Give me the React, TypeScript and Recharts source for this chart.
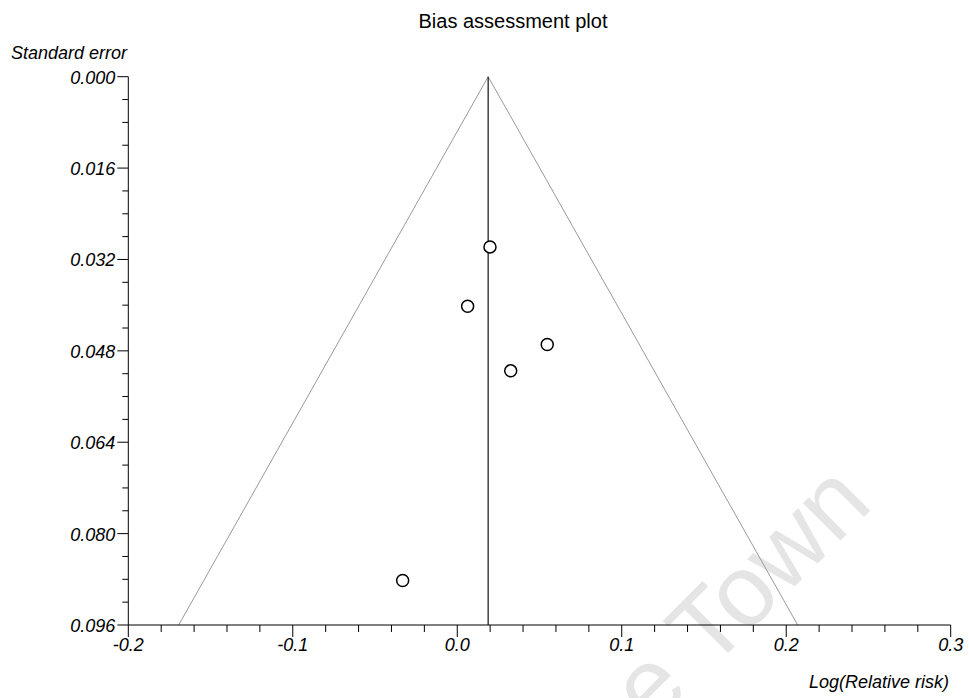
import React from 'react';
import {
  ScatterChart,
  Scatter,
  XAxis,
  YAxis,
  ReferenceLine,
} from 'recharts';

// Study estimates: log relative risk and its standard error
const logRelativeRisk = [0.0199, 0.0063, 0.0547, 0.0325, -0.0332];
const standardError = [0.0298, 0.0402, 0.0469, 0.0515, 0.0882];

// Pooled (fixed effect) estimate and the deepest standard error shown
const pooledEstimate = 0.0188;
const maxStandardError = 0.096;
const zCritical = 1.96;

// Axis ticks
const xTickValues = [-0.2, -0.18, -0.16, -0.14, -0.12, -0.1, -0.08, -0.06, -0.04, -0.02, 0, 0.02, 0.04, 0.06, 0.08, 0.1, 0.12, 0.14, 0.16, 0.18, 0.2, 0.22, 0.24, 0.26, 0.28, 0.3];
const xTickLabels = ['-0.2', '-0.1', '0.0', '0.1', '0.2', '0.3'];
const yTickValues = [0, 0.004, 0.008, 0.012, 0.016, 0.02, 0.024, 0.028, 0.032, 0.036, 0.04, 0.044, 0.048, 0.052, 0.056, 0.06, 0.064, 0.068, 0.072, 0.076, 0.08, 0.084, 0.088, 0.092, 0.096];
const yTickLabels = ['0.000', '0.016', '0.032', '0.048', '0.064', '0.080', '0.096'];

const studies = logRelativeRisk.map((v, i) => ({ x: v, y: standardError[i] }));

const FONT = '"Liberation Sans", Arial, Helvetica, sans-serif';
const W = 969;
const H = 698;

const XTick = (props: any) => {
  const { x, y, index } = props;
  const major = index % 5 === 0;
  return (
    <g>
      <line x1={x} y1={y} x2={x} y2={y + (major ? 12 : 7)} stroke="#000" strokeWidth={1} />
      {major && (
        <text
          x={x}
          y={y + 26}
          textAnchor="middle"
          fontFamily={FONT}
          fontStyle="italic"
          fontSize={18}
          fill="#000"
        >
          {xTickLabels[index / 5]}
        </text>
      )}
    </g>
  );
};

const YTick = (props: any) => {
  const { x, y, index } = props;
  const major = index % 4 === 0;
  return (
    <g>
      <line x1={x - (major ? 11 : 6)} y1={y} x2={x} y2={y} stroke="#000" strokeWidth={1} />
      {major && (
        <text
          x={x - 13}
          y={y + 7}
          textAnchor="end"
          fontFamily={FONT}
          fontStyle="italic"
          fontSize={18}
          fill="#000"
        >
          {yTickLabels[index / 4]}
        </text>
      )}
    </g>
  );
};

const StudyMarker = (props: any) => {
  const { cx, cy } = props;
  if (cx == null || cy == null) return null;
  return <circle cx={cx} cy={cy} r={6} fill="#fff" stroke="#000" strokeWidth={1.5} />;
};

export default function App() {
  const lowerEdge = pooledEstimate - zCritical * maxStandardError;
  const upperEdge = pooledEstimate + zCritical * maxStandardError;

  return (
    <div style={{ position: 'absolute', left: 0, top: 0, width: W, height: H, background: '#fff', overflow: 'hidden' }}>
      <svg width={W} height={H} style={{ position: 'absolute', left: 0, top: 0 }}>
        <text
          x={652}
          y={729}
          transform="rotate(-45 652 729)"
          fontFamily={FONT}
          fontSize={100}
          fill="#e5e5e5"
        >
          e Town
        </text>
        <text x={513} y={28} textAnchor="middle" fontFamily={FONT} fontSize={20} fill="#000">
          Bias assessment plot
        </text>
        <text x={11} y={59} fontFamily={FONT} fontStyle="italic" fontSize={18} fill="#000">
          Standard error
        </text>
        <text x={949} y={688} textAnchor="end" fontFamily={FONT} fontStyle="italic" fontSize={18} fill="#000">
          Log(Relative risk)
        </text>
      </svg>
      <div style={{ position: 'absolute', left: 0, top: 0 }}>
        <ScatterChart
          width={W}
          height={H}
          margin={{ top: 76.7, right: 18.3, bottom: 43, left: 68.3 }}
        >
          <XAxis
            type="number"
            dataKey="x"
            domain={[-0.2, 0.3]}
            ticks={xTickValues}
            interval={0}
            tick={<XTick />}
            tickLine={false}
            tickSize={0}
            tickMargin={0}
            height={30}
            axisLine={{ stroke: '#000', strokeWidth: 1 }}
            allowDataOverflow
          />
          <YAxis
            type="number"
            dataKey="y"
            domain={[0, maxStandardError]}
            reversed
            ticks={yTickValues}
            interval={0}
            tick={<YTick />}
            tickLine={false}
            tickSize={0}
            tickMargin={0}
            width={60}
            axisLine={{ stroke: '#000', strokeWidth: 1 }}
            allowDataOverflow
          />
          <ReferenceLine
            segment={[
              { x: lowerEdge, y: maxStandardError },
              { x: pooledEstimate, y: 0 },
            ]}
            stroke="#9a9a9a"
            strokeWidth={1}
            ifOverflow="visible"
          />
          <ReferenceLine
            segment={[
              { x: pooledEstimate, y: 0 },
              { x: upperEdge, y: maxStandardError },
            ]}
            stroke="#9a9a9a"
            strokeWidth={1}
            ifOverflow="visible"
          />
          <ReferenceLine
            segment={[
              { x: pooledEstimate, y: 0 },
              { x: pooledEstimate, y: maxStandardError },
            ]}
            stroke="#333"
            strokeWidth={1.4}
            ifOverflow="visible"
          />
          <Scatter data={studies} shape={<StudyMarker />} isAnimationActive={false} />
        </ScatterChart>
      </div>
    </div>
  );
}
